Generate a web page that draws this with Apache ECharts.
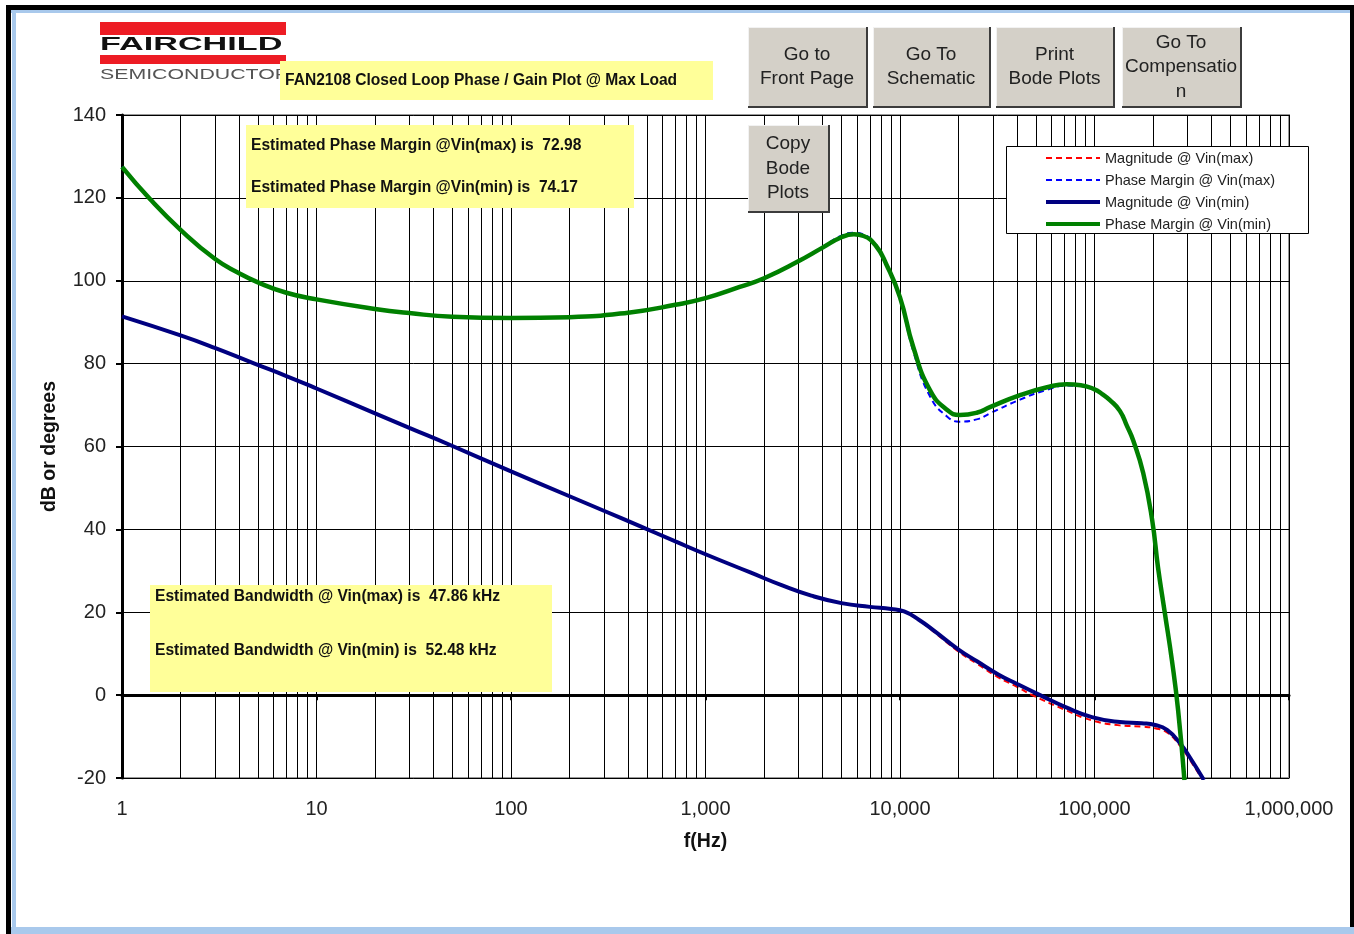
<!DOCTYPE html>
<html><head><meta charset="utf-8">
<script src="https://cdn.jsdelivr.net/npm/echarts@6/dist/echarts.min.js"></script>
<style>html,body{margin:0;padding:0;background:#fff}#c{width:1354px;height:934px}</style>
</head><body><div id="c"></div>
<script>
const FONT = '"Liberation Sans", Arial, Helvetica, sans-serif';

// ---------- data ----------
const seriesNames = ['Magnitude @ Vin(max)', 'Phase Margin @ Vin(max)', 'Magnitude @ Vin(min)', 'Phase Margin @ Vin(min)'];
const xTickLabels = ['1', '10', '100', '1,000', '10,000', '100,000', '1,000,000'];
const yTickMin = -20, yTickMax = 140, yTickStep = 20;

const magMaxFreq = [1, 2, 3, 4.8, 7, 10, 20, 30, 49, 100, 200, 300, 460, 700, 1000, 1700, 2500, 3500, 5000, 7000, 9000, 10500, 12500, 15000, 20000, 25000, 32000, 40000, 47860, 71000, 97000, 135000, 175000, 205000, 236000, 275000, 309000, 360000];
const magMaxDb   = [91.4, 86.8, 83.8, 80, 77, 74, 68, 64.5, 60.3, 54, 48, 44.5, 40.8, 37.1, 34, 29.6, 26.4, 24, 22.2, 21.3, 20.8, 20.2, 18.1, 15.2, 10.5, 7.5, 4.3, 2, 0, -3.6, -6.1, -7.3, -7.6, -8, -9, -12.2, -15.6, -20.5];

const phaseMaxFreq = [1, 1.4, 2, 3, 4, 5, 7, 10, 20, 30, 50, 100, 200, 400, 700, 1000, 1500, 2000, 3000, 4000, 5000, 5800, 6500, 7500, 8500, 10000, 11700, 14300, 17500, 20300, 25000, 29000, 41400, 57000, 72000, 85000, 100000, 110000, 120000, 135000, 147000, 158000, 178000, 198000, 212000, 230000, 250000, 269000, 290000];
const phaseMaxDeg  = [127.5, 119.6, 112.3, 105.3, 101.8, 99.6, 97.1, 95.5, 93.2, 92.2, 91.3, 91, 91.2, 92.3, 94.2, 95.8, 98.5, 100.6, 104.7, 108.2, 110.9, 111.6, 111.2, 108.7, 104, 95.5, 83, 72, 67.2, 66, 66.6, 68, 71.3, 73.7, 74.7, 74.6, 73.7, 72.6, 71.2, 68.6, 64.9, 61.5, 53.6, 42.2, 30.9, 19.8, 8.4, -3.6, -20.5];

const magMinFreq = [1, 2, 3, 4.8, 7, 10, 20, 30, 49, 100, 200, 300, 460, 700, 1000, 1700, 2500, 3500, 5000, 7000, 9000, 10500, 12500, 15000, 20000, 25000, 32000, 40000, 52480, 71000, 97000, 135000, 175000, 205000, 236000, 275000, 309000, 365000];
const magMinDb   = [91.4, 86.8, 83.8, 80, 77, 74, 68, 64.5, 60.3, 54, 48, 44.5, 40.8, 37.1, 34, 29.6, 26.4, 24, 22.2, 21.3, 20.8, 20.2, 18.2, 15.5, 11, 8.1, 5, 2.7, 0, -2.9, -5.3, -6.5, -6.8, -7.2, -8.4, -11.6, -15, -20.5];

const phaseMinFreq = [1, 1.4, 2, 3, 4, 5, 7, 10, 20, 30, 50, 100, 200, 400, 700, 1000, 1500, 2000, 3000, 4000, 5000, 5800, 6500, 7500, 8500, 10000, 11700, 14300, 17500, 20300, 25000, 29000, 41400, 57000, 72000, 85000, 100000, 110000, 120000, 135000, 147000, 158000, 178000, 198000, 212000, 230000, 250000, 269000, 290000];
const phaseMinDeg  = [127.5, 119.6, 112.3, 105.3, 101.8, 99.6, 97.1, 95.5, 93.2, 92.2, 91.3, 91, 91.2, 92.3, 94.2, 95.8, 98.5, 100.6, 104.7, 108, 110.5, 111.2, 110.8, 108.5, 104, 96, 84, 73.5, 68.8, 67.6, 68.2, 69.5, 72.4, 74.3, 75, 74.8, 73.8, 72.6, 71.2, 68.6, 64.9, 61.5, 53.6, 42.2, 30.9, 19.8, 8.4, -3.6, -20.5];

const titleText = 'FAN2108 Closed Loop Phase / Gain Plot @ Max Load';
const phaseNotes = ['Estimated Phase Margin @Vin(max) is  72.98', 'Estimated Phase Margin @Vin(min) is  74.17'];
const bwNotes = ['Estimated Bandwidth @ Vin(max) is  47.86 kHz', 'Estimated Bandwidth @ Vin(min) is  52.48 kHz'];
const buttonLabels = [['Go to', 'Front Page'], ['Go To', 'Schematic'], ['Print', 'Bode Plots'], ['Go To', 'Compensatio', 'n'], ['Copy', 'Bode', 'Plots']];

// ---------- helpers ----------
const zip = (a, b) => a.map((v, i) => [v, b[i]]);
const minorFreqs = [];
for (let d = 0; d < 6; d++) for (let m = 2; m <= 9; m++) minorFreqs.push(m * Math.pow(10, d));

function rect(x, y, w, h, fill, z, stroke, lw) {
  return { type: 'rect', silent: true, z: z || 10, shape: { x, y, width: w, height: h },
    style: { fill, stroke: stroke || null, lineWidth: lw || 0 } };
}
function text(x, y, str, font, fill, align, z, scaleX) {
  return { type: 'text', silent: true, z: z || 11, x, y, scaleX: scaleX || 1,
    style: { text: str, font, fill, align: align || 'left', verticalAlign: 'middle',
      textAlign: align || 'left', textVerticalAlign: 'middle' } };
}

const colors = ['#ff0000', '#0000ff', '#000080', '#008000'];
const widths = [2, 2, 4, 4.5];
const dashes = [[6, 4], [6, 4], null, null];

const graphics = [];
// window frame
graphics.push(rect(6, 5, 5, 929, '#000', 1));
graphics.push(rect(6, 5, 1348, 5, '#000', 1));
graphics.push(rect(1350, 5, 4, 922, '#000', 1));
graphics.push(rect(11, 10, 1339, 3, '#a9c9ec', 1));
graphics.push(rect(12, 10, 4, 924, '#a9c9ec', 1));
graphics.push(rect(11, 927, 1343, 7, '#a9c9ec', 1));
// logo
graphics.push(rect(100, 22, 186, 13, '#ed1c24', 5));
graphics.push(text(100, 45, 'FAIRCHILD', 'bold 18px ' + FONT, '#111', 'left', 6, 1.9));
graphics.push(rect(100, 55, 186, 9, '#ed1c24', 5));
graphics.push(text(100, 75, 'SEMICONDUCTOR', '15px ' + FONT, '#555', 'left', 6, 1.42));
// title box
graphics.push(rect(280, 61, 433, 39, '#ffff99', 12));
graphics.push(text(285, 81, titleText, 'bold 15.6px ' + FONT, '#111', 'left', 13));
// phase margin box
graphics.push(rect(246, 125, 388, 83, '#ffff99', 12));
graphics.push(text(251, 146, phaseNotes[0], 'bold 15.6px ' + FONT, '#111', 'left', 13));
graphics.push(text(251, 188, phaseNotes[1], 'bold 15.6px ' + FONT, '#111', 'left', 13));
// bandwidth box
graphics.push(rect(150, 585, 402, 107, '#ffff99', 12));
graphics.push(text(155, 597, bwNotes[0], 'bold 15.6px ' + FONT, '#111', 'left', 13));
graphics.push(text(155, 651, bwNotes[1], 'bold 15.6px ' + FONT, '#111', 'left', 13));
// legend box + entries
graphics.push(rect(1006.5, 146.5, 302, 87, '#fff', 12, '#000', 1));
seriesNames.forEach((n, i) => {
  const y = 158 + i * 22;
  graphics.push({ type: 'line', silent: true, z: 13,
    shape: { x1: 1046, y1: y, x2: 1100, y2: y },
    style: { stroke: colors[i], lineWidth: widths[i] === 2 ? 2 : 4, lineDash: dashes[i] || null, lineCap: 'butt' } });
  graphics.push(text(1105, y + 1, n, '14.5px ' + FONT, '#222', 'left', 13));
});
// buttons
const btnBoxes = [[748, 27, 120, 81], [873, 27, 118, 81], [996, 27, 119, 81], [1122, 27, 120, 81], [748, 125, 82, 88]];
btnBoxes.forEach((b, i) => {
  const [x, y, w, h] = b;
  graphics.push(rect(x, y, w, h, '#3c3c3c', 12));
  graphics.push(rect(x, y, w - 2, h - 2, '#d4d0c8', 13));
  graphics.push(rect(x, y, w - 2, 1, '#f2f2f2', 14));
  graphics.push(rect(x, y, 1, h - 2, '#f2f2f2', 14));
  const lines = buttonLabels[i];
  const step = 24.5;
  const cy = y + h / 2 - 0.5;
  lines.forEach((s, k) => {
    graphics.push(text(x + w / 2 - 1, cy + (k - (lines.length - 1) / 2) * step, s, '19px ' + FONT, '#222', 'center', 15));
  });
});

const datasets = [zip(magMaxFreq, magMaxDb), zip(phaseMaxFreq, phaseMaxDeg), zip(magMinFreq, magMinDb), zip(phaseMinFreq, phaseMinDeg)];

const series = datasets.map((d, i) => ({
  name: seriesNames[i], type: 'line', data: d, symbol: 'none', showSymbol: false, smooth: 0.5,
  silent: true, z: 3 + i, clip: true,
  lineStyle: { color: colors[i], width: widths[i], type: dashes[i] || 'solid' },
  itemStyle: { color: colors[i] }
}));
series.unshift({
  name: 'grid-minor', type: 'line', data: [], symbol: 'none', silent: true, z: 1,
  markLine: { silent: true, symbol: ['none', 'none'], label: { show: false },
    lineStyle: { color: '#000', width: 1, type: 'solid' }, animation: false,
    data: minorFreqs.map(v => ({ xAxis: v })) }
});

const chart = echarts.init(document.getElementById('c'), null, { renderer: 'canvas' });
chart.setOption({
  animation: false,
  backgroundColor: '#fff',
  grid: { left: 122, top: 115, width: 1167, height: 663, show: true, borderColor: '#999', borderWidth: 2, backgroundColor: 'transparent' },
  xAxis: [{
    type: 'log', logBase: 10, min: 1, max: 1000000, gridIndex: 0, position: 'bottom',
    axisLine: { show: true, onZero: true, lineStyle: { color: '#000', width: 3 } },
    axisTick: { show: true, length: 5, lineStyle: { color: '#000', width: 2 } },
    axisLabel: { show: false },
    splitLine: { show: true, lineStyle: { color: '#000', width: 1 } },
    minorTick: { show: false }, minorSplitLine: { show: false }
  }, {
    type: 'log', logBase: 10, min: 1, max: 1000000, gridIndex: 0, position: 'bottom',
    axisLine: { show: false, onZero: false },
    axisTick: { show: false }, splitLine: { show: false },
    axisLabel: { show: true, margin: 21, fontSize: 20, color: '#222', fontFamily: FONT,
      formatter: v => xTickLabels[Math.round(Math.log10(v))] },
    name: 'f(Hz)', nameLocation: 'middle', nameGap: 54,
    nameTextStyle: { fontFamily: FONT, fontSize: 19.5, fontWeight: 'bold', color: '#111' }
  }],
  yAxis: {
    type: 'value', min: yTickMin, max: yTickMax, interval: yTickStep,
    axisLine: { show: true, onZero: false, lineStyle: { color: '#000', width: 3 } },
    axisTick: { show: true, length: 6, lineStyle: { color: '#000', width: 2 } },
    axisLabel: { margin: 16, fontSize: 20, color: '#222', fontFamily: FONT },
    splitLine: { show: true, lineStyle: { color: '#000', width: 1 } },
    name: 'dB or degrees', nameLocation: 'middle', nameGap: 62, nameRotate: 90,
    nameTextStyle: { fontFamily: FONT, fontSize: 19.5, fontWeight: 'bold', color: '#111' }
  },
  series,
  graphic: { elements: graphics }
});
</script></body></html>
